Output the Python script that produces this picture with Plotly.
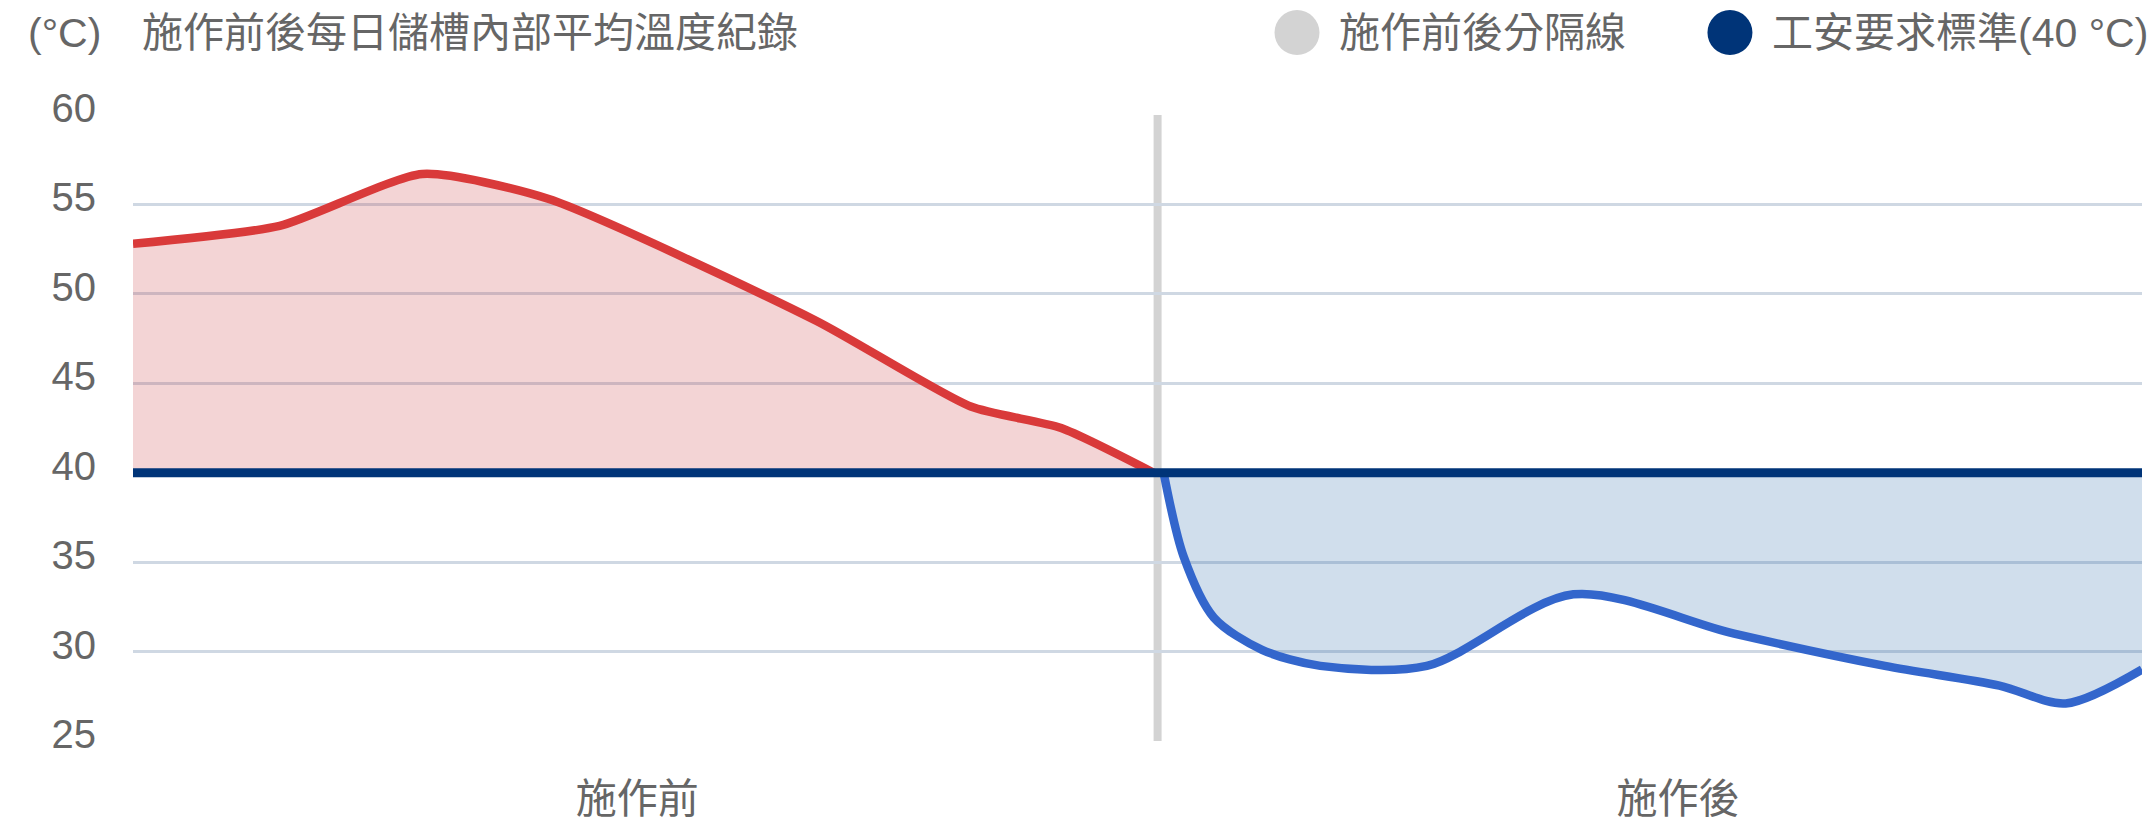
import plotly.graph_objects as go

# days from start of record, temperature in °C
before_day = [0, 7.3, 14.4, 20.7, 34.0, 41.7, 46.2, 50.8]
before_temp = [52.8, 53.8, 56.7, 55.3, 48.5, 43.7, 42.5, 40.0]

after_day = [51.3, 52.3, 53.8, 56.2, 59.1, 64.4, 71.7, 79.7, 87.2, 92.9, 96.2, 100]
after_temp = [40.0, 35.3, 31.9, 30.1, 29.2, 29.2, 33.2, 31.0, 29.2, 28.1, 27.1, 29.0]

limit = 40
split_day = 51.0

period_pos = [25.1, 76.9]
period_labels = ["施作前", "施作後"]
y_ticks = [25, 30, 35, 40, 45, 50, 55, 60]

title = "施作前後每日儲槽內部平均溫度紀錄"
unit = "(°C)"
legend_split = "施作前後分隔線"
legend_limit = "工安要求標準(40 °C)"

FONT = "Liberation Sans, Noto Sans CJK TC, sans-serif"
GREY = "#666666"
NAVY = "#003478"

fig = go.Figure()

# red area above the limit
fig.add_trace(go.Scatter(x=[before_day[0], before_day[-1]], y=[limit, limit],
                         mode="lines", line=dict(width=0), showlegend=False, hoverinfo="skip"))
fig.add_trace(go.Scatter(x=before_day, y=before_temp, mode="lines",
                         line=dict(color="#d93a3a", width=8.5, shape="spline", smoothing=0.6),
                         fill="tonexty", fillcolor="rgba(200,60,65,0.22)", showlegend=False))

# blue area below the limit
fig.add_trace(go.Scatter(x=[after_day[0], after_day[-1]], y=[limit, limit],
                         mode="lines", line=dict(width=0), showlegend=False, hoverinfo="skip"))
fig.add_trace(go.Scatter(x=after_day, y=after_temp, mode="lines",
                         line=dict(color="#3366cc", width=8.5, shape="spline", smoothing=0.85),
                         fill="tonexty", fillcolor="rgba(41,105,169,0.22)", showlegend=False))

# separator and limit lines
fig.add_shape(type="line", xref="x", yref="paper", x0=split_day, x1=split_day, y0=0, y1=1,
              line=dict(color="#d3d3d3", width=8), layer="between")
fig.add_shape(type="line", xref="paper", yref="y", x0=0, x1=1, y0=limit, y1=limit,
              line=dict(color=NAVY, width=9), layer="above")

# legend circles drawn by hand
top_y = 1.1317
for xc, col in [(0.5794, "#d3d3d3"), (0.7949, NAVY)]:
    fig.add_shape(type="circle", xref="paper", yref="paper", xsizemode="pixel", ysizemode="pixel",
                  xanchor=xc, yanchor=top_y, x0=-22.5, x1=22.5, y0=-22.5, y1=22.5,
                  fillcolor=col, line=dict(width=0))

for txt, xp, anchor in [(unit, -0.0533, "left"), (title, 0.0035, "left"),
                        (legend_split, 0.5993, "left"), (legend_limit, 1.004, "right")]:
    fig.add_annotation(text=txt, xref="paper", yref="paper", x=xp, y=top_y,
                       xanchor=anchor, yanchor="middle", showarrow=False,
                       font=dict(family=FONT, size=41, color=GREY))

fig.update_layout(
    width=2154, height=834,
    margin=dict(l=133, r=12, t=115, b=89),
    paper_bgcolor="white", plot_bgcolor="white",
    font=dict(family=FONT, size=40, color=GREY),
    showlegend=False,
    hovermode=False,
)
fig.update_xaxes(range=[0, 100], showgrid=False, zeroline=False, showline=False,
                 tickmode="array", tickvals=period_pos, ticktext=period_labels,
                 tickfont=dict(size=41), ticklabelstandoff=30)
fig.update_yaxes(range=[25, 60], tickvals=y_ticks, showgrid=True, gridcolor="#cfd8e3",
                 gridwidth=3, zeroline=False, showline=False,
                 tickfont=dict(size=40), ticklabelstandoff=36, ticklabelshift=-7)

fig.write_html("out.html", config={"displayModeBar": False},
               post_script="document.body.style.margin='0';")
